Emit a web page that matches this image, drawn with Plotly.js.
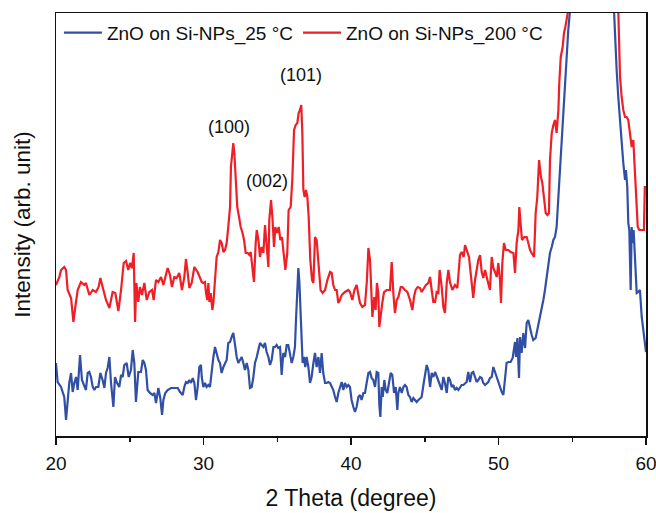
<!DOCTYPE html>
<html>
<head>
<meta charset="utf-8">
<script src="https://cdn.plot.ly/plotly-3.0.1.min.js"></script>
<style>html,body{margin:0;padding:0;background:#fff;}#chart{width:656px;height:513px;}</style>
</head>
<body>
<div id="chart"></div>
<script>
// 2 Theta (degree) and intensity (arb. unit) for ZnO on Si-NPs, 25 °C
const theta25 = [
20.00,20.11,20.34,20.56,20.68,20.79,20.90,21.02,21.13,21.24,21.36,21.47,21.63,21.76,21.92,22.03,22.15,22.26,22.37,22.49,
22.60,22.71,22.87,23.01,23.16,23.28,23.39,23.50,23.62,23.73,23.89,24.00,24.14,24.29,24.41,24.52,24.63,24.79,24.93,25.08,
25.20,25.31,25.42,25.58,25.76,25.88,25.99,26.10,26.21,26.37,26.55,26.67,26.78,26.94,27.07,27.19,27.28,27.41,27.57,27.80,
28.02,28.25,28.41,28.59,28.70,28.81,28.93,29.04,29.15,29.27,29.38,29.49,29.60,29.72,29.83,
29.88,29.99,30.10,30.21,30.33,30.44,30.55,30.67,30.78,30.89,31.01,31.12,31.23,31.35,31.46,31.57,31.68,31.80,31.91,32.02,
32.14,32.25,32.36,32.48,32.59,32.70,32.81,32.93,33.04,33.15,33.27,33.38,33.49,33.61,33.72,33.83,33.94,34.06,34.17,34.28,
34.40,34.51,34.62,34.74,34.85,34.96,35.07,35.19,35.30,35.41,35.53,35.64,35.75,35.87,35.98,36.09,36.20,36.27,36.36,36.43,
36.50,36.56,36.63,36.72,36.81,36.90,36.99,37.11,37.22,37.33,37.45,37.56,37.67,37.79,37.90,38.01,38.12,38.24,38.35,38.46,
38.58,38.69,38.80,38.92,39.03,39.14,39.25,39.37,39.48,39.59,39.71,39.82,39.93,
40.04,40.16,40.27,40.38,40.50,40.61,40.72,40.84,40.95,41.06,41.18,41.29,41.40,41.51,41.63,41.74,41.85,41.92,41.99,42.08,
42.15,42.26,42.35,42.46,42.58,42.69,42.80,42.92,43.03,43.14,43.21,43.32,43.44,43.55,43.66,43.77,43.89,44.00,44.11,44.23,
44.34,44.45,44.57,44.68,44.79,44.93,45.02,45.13,45.24,45.36,45.47,45.58,45.70,45.81,45.92,46.03,46.15,46.26,46.37,46.49,
46.60,46.71,46.83,46.94,47.05,47.16,47.28,47.39,47.50,47.62,47.73,47.84,47.95,48.07,48.18,48.29,48.41,48.52,48.63,48.75,
48.86,48.97,49.09,49.20,49.31,49.42,49.54,49.65,49.76,
49.88,49.99,50.10,50.22,50.33,50.44,50.55,50.67,50.82,50.96,51.05,51.12,51.19,51.28,51.39,51.46,51.57,51.68,51.80,51.91,
52.02,52.14,52.25,52.36,52.52,52.63,52.77,52.93,53.04,53.15,53.27,53.38,53.49,53.61,53.72,53.83,53.94,54.06,54.17,54.28,
54.40,54.51,54.62,54.73,54.85,55.20,55.70,56.30,56.90,57.40,57.83,57.90,58.01,58.12,58.24,58.35,58.46,58.58,58.64,58.73,
58.80,58.87,58.96,59.03,59.10,59.16,59.23,59.30,59.37,59.48,59.59,59.71,59.82,59.93,60.00
];
const intensity25 = [
73,54,49,39,16,36,53,63,44,53,59,46,81,56,49,46,63,64,59,49,
46,49,49,63,56,48,63,68,79,53,29,59,53,49,61,59,71,73,59,66,
86,73,34,64,64,76,73,66,46,43,41,43,33,48,38,21,36,43,46,48,
48,48,44,41,49,54,53,56,53,58,53,36,48,69,71,
59,49,53,49,51,49,66,79,89,83,76,73,63,69,73,76,93,94,99,103,
91,79,73,76,79,73,66,73,66,48,49,59,73,79,86,93,91,89,93,84,
79,71,76,89,89,91,88,89,61,83,79,91,91,83,73,79,89,116,149,168,
154,136,106,73,79,69,79,69,53,59,73,83,69,79,63,83,63,53,53,54,
53,49,46,39,34,43,49,54,46,53,49,51,49,
36,29,24,29,39,41,36,43,43,53,63,64,58,56,49,64,63,31,19,49,
39,56,46,43,53,63,61,43,49,26,43,49,43,49,51,49,41,39,34,38,
36,34,36,38,39,53,63,71,66,49,63,59,64,59,56,51,46,59,53,43,
59,56,49,51,46,48,46,49,51,51,53,54,64,54,63,64,59,54,56,59,
58,53,51,53,54,58,59,69,64,
59,53,49,44,41,56,73,74,74,78,86,94,79,98,58,99,83,103,88,113,
116,106,101,96,98,106,116,126,136,146,159,173,183,189,196,199,209,239,266,293,
326,353,383,406,426,520,640,720,640,540,426,399,366,339,313,293,273,256,266,249,
213,206,146,209,193,206,186,173,143,144,146,119,103,89,84
];

// ZnO on Si-NPs, 200 °C
const theta200 = [
20.00,20.23,20.34,20.56,20.68,20.79,21.02,21.18,21.31,21.47,21.69,21.92,22.03,22.26,22.49,22.71,22.89,23.01,23.16,23.39,
23.62,23.84,24.02,24.23,24.41,24.59,24.75,24.90,25.02,25.15,25.27,25.36,25.45,25.58,25.69,25.83,25.99,26.15,26.33,26.51,
26.62,26.78,26.94,27.12,27.28,27.41,27.57,27.73,27.86,28.02,28.18,28.36,28.54,28.70,28.81,28.93,29.04,29.20,29.38,29.60,
29.88,29.99,30.10,30.17,30.26,30.33,30.40,30.49,30.60,30.67,30.78,30.89,31.01,31.12,31.23,31.35,31.46,31.57,31.68,31.80,
31.86,31.96,32.02,32.09,32.18,32.29,32.41,32.52,32.63,32.75,32.86,33.00,33.11,33.20,33.31,33.42,33.54,33.61,33.72,33.83,
33.94,34.06,34.17,34.28,34.40,34.46,34.58,34.67,34.78,34.87,34.98,35.10,35.21,35.32,35.44,35.55,35.68,35.77,35.91,36.02,
36.14,36.25,36.36,36.45,36.54,36.63,36.70,36.77,36.86,36.95,37.04,37.13,37.24,37.36,37.45,37.56,37.67,37.76,37.85,37.94,
38.08,38.24,38.40,38.58,38.69,38.80,38.92,39.03,39.14,39.25,39.37,39.59,39.82,39.93,
40.09,40.23,40.38,40.50,40.61,40.77,40.95,41.08,41.18,41.29,41.36,41.45,41.58,41.67,41.76,41.85,41.92,42.01,42.12,42.24,
42.42,42.64,42.76,42.87,42.98,43.10,43.21,43.37,43.48,43.66,43.82,44.00,44.16,44.27,44.38,44.52,44.68,44.79,44.93,45.08,
45.24,45.36,45.47,45.58,45.70,45.81,45.92,46.01,46.15,46.26,46.37,46.49,46.60,46.71,46.87,47.05,47.21,47.39,47.50,47.64,
47.73,47.86,48.00,48.14,48.29,48.41,48.52,48.63,48.75,48.86,48.97,49.09,49.20,49.31,49.42,49.54,49.65,49.76,
49.88,49.99,50.10,50.17,50.26,50.37,50.49,50.67,50.82,51.01,51.12,51.23,51.35,51.41,51.50,51.59,51.75,51.91,52.02,52.14,
52.25,52.41,52.52,52.63,52.75,52.81,52.88,52.97,53.09,53.20,53.31,53.42,53.49,53.61,53.72,53.83,53.94,54.06,54.12,54.22,
54.35,54.44,54.53,54.67,54.73,55.20,55.70,56.30,57.00,57.60,58.12,58.24,58.35,58.46,58.58,58.69,58.80,58.92,59.03,59.14,
59.25,59.37,59.44,59.55,59.71,59.86,59.92,60.00
];
const intensity200 = [
151,159,166,169,166,146,138,114,129,146,154,151,153,141,146,144,149,158,149,136,
128,144,143,125,146,173,175,166,173,168,183,114,153,134,149,141,153,136,144,146,
136,156,154,159,151,159,168,161,149,159,158,163,146,159,177,163,148,153,169,164,
154,153,154,143,136,153,134,143,126,133,163,179,184,196,193,184,186,193,209,229,
269,286,293,283,263,229,219,209,204,196,183,183,181,184,169,154,193,206,196,179,
189,183,211,193,169,216,236,219,189,209,203,209,196,199,183,166,183,226,229,256,
306,311,313,323,326,331,303,246,239,246,239,219,176,156,153,199,196,176,159,146,
143,146,156,164,163,151,146,146,133,136,141,144,146,144,
136,146,151,141,133,129,131,156,188,176,149,119,139,126,153,143,109,123,133,144,
146,146,174,143,123,136,139,149,149,146,144,136,126,139,146,149,148,144,148,151,
153,159,146,134,134,144,143,166,149,129,123,153,166,154,146,151,148,181,184,179,
191,186,179,159,138,156,166,176,181,164,158,166,159,153,146,179,168,164,
159,173,156,133,173,193,186,186,184,183,163,193,206,229,213,196,199,199,193,186,
183,179,223,239,276,266,259,253,239,223,221,223,276,303,311,316,303,326,353,379,
389,403,409,423,426,540,660,760,680,560,426,359,339,326,319,319,316,299,289,296,
266,226,209,206,206,206,249,249
];

const seriesNames = ['ZnO on Si-NPs_25 °C', 'ZnO on Si-NPs_200 °C'];
const peakLabels = ['(100)', '(002)', '(101)'];
const peakTheta = [31.75, 34.3, 36.6];
const peakLabelIntensity = [309, 255, 361];

const xTicks = [20, 30, 40, 50, 60];

const traces = [
  {x: theta25, y: intensity25, type: 'scatter', mode: 'lines', name: seriesNames[0],
   line: {color: '#3150a5', width: 2.2}},
  {x: theta200, y: intensity200, type: 'scatter', mode: 'lines', name: seriesNames[1],
   line: {color: '#ee1f26', width: 2.2}}
];

const annotations = peakLabels.map((t, i) => ({
  x: peakTheta[i], y: peakLabelIntensity[i], xref: 'x', yref: 'y', text: t,
  showarrow: false, font: {size: 18, color: '#111', family: 'Liberation Sans, Arial, sans-serif'}
}));

const layout = {
  width: 656, height: 513,
  margin: {l: 56, r: 10, t: 13, b: 77},
  paper_bgcolor: '#fff', plot_bgcolor: '#fff',
  font: {family: 'Liberation Sans, Arial, sans-serif', color: '#111'},
  showlegend: true,
  legend: {orientation: 'h', x: 0.005, y: 0.998, xanchor: 'left', yanchor: 'top',
           bgcolor: 'rgba(0,0,0,0)', font: {size: 19}, itemwidth: 38, tracegroupgap: 0},
  xaxis: {range: [20, 60], tickvals: xTicks, ticks: 'outside', ticklen: 7, tickwidth: 1.5,
          tickcolor: '#111', showline: true, linecolor: '#111', linewidth: 1.5, mirror: true,
          showgrid: false, zeroline: false, tickfont: {size: 19}, ticklabeloverflow: 'allow',
          ticklabelstandoff: 3,
          minor: {dtick: 5, ticks: 'outside', ticklen: 4, tickwidth: 1.5, tickcolor: '#111', showgrid: false},
          title: {text: '2 Theta (degree)', font: {size: 23}, standoff: 16}},
  yaxis: {range: [0, 423], showticklabels: false, ticks: '', showline: true, linecolor: '#111',
          linewidth: 1.5, mirror: true, showgrid: false, zeroline: false,
          title: {text: 'Intensity (arb. unit)', font: {size: 22.5}, standoff: 17}},
  annotations: annotations
};

Plotly.newPlot('chart', traces, layout, {displayModeBar: false, staticPlot: true});
</script>
</body>
</html>
